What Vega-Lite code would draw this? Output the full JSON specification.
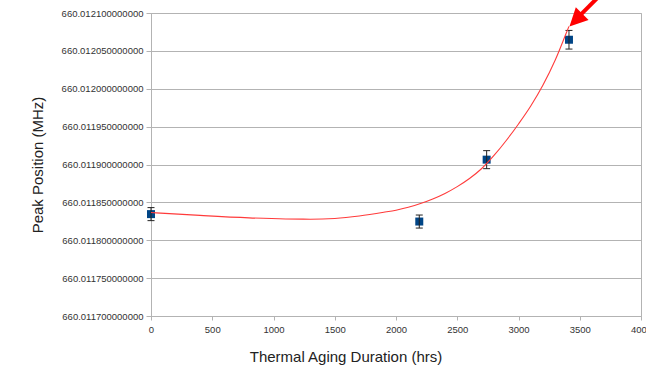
{
  "$schema": "https://vega.github.io/schema/vega-lite/v6.json",
  "width": 490,
  "height": 303,
  "autosize": {"type": "none"},
  "padding": {"left": 151, "top": 13, "right": 5, "bottom": 52},
  "background": "white",
  "config": {
    "view": {"stroke": "#b3b3b3", "strokeWidth": 1},
    "font": "Liberation Sans"
  },
  "datasets": {
    "points": [
      {"hours": 0, "peak": 660.0118345},
      {"hours": 2190, "peak": 660.0118247},
      {"hours": 2740, "peak": 660.0119064},
      {"hours": 3412, "peak": 660.0120647}
    ],
    "errbars": [
      {"hours": 0, "peak": 660.0118259, "peak2": 660.0118431},
      {"hours": 2190, "peak": 660.0118161, "peak2": 660.0118333},
      {"hours": 2740, "peak": 660.0118945, "peak2": 660.0119183},
      {"hours": 3412, "peak": 660.0120524, "peak2": 660.0120770}
    ],
    "caps": [
      {"hours": 0, "peak": 660.0118259},
      {"hours": 0, "peak": 660.0118431},
      {"hours": 2190, "peak": 660.0118161},
      {"hours": 2190, "peak": 660.0118333},
      {"hours": 2740, "peak": 660.0118945},
      {"hours": 2740, "peak": 660.0119183},
      {"hours": 3412, "peak": 660.0120524},
      {"hours": 3412, "peak": 660.0120770}
    ],
    "curve": [
      {"hours": 0, "peak": 660.0118366},
      {"hours": 400, "peak": 660.0118328},
      {"hours": 800, "peak": 660.0118296},
      {"hours": 1100, "peak": 660.0118281},
      {"hours": 1300, "peak": 660.0118278},
      {"hours": 1500, "peak": 660.0118288},
      {"hours": 1700, "peak": 660.011832},
      {"hours": 1900, "peak": 660.0118369},
      {"hours": 2000, "peak": 660.0118397},
      {"hours": 2100, "peak": 660.0118436},
      {"hours": 2200, "peak": 660.0118485},
      {"hours": 2300, "peak": 660.0118545},
      {"hours": 2400, "peak": 660.0118618},
      {"hours": 2500, "peak": 660.0118708},
      {"hours": 2600, "peak": 660.0118815},
      {"hours": 2700, "peak": 660.0118947},
      {"hours": 2800, "peak": 660.0119119},
      {"hours": 2900, "peak": 660.0119317},
      {"hours": 3000, "peak": 660.0119535},
      {"hours": 3100, "peak": 660.0119772},
      {"hours": 3200, "peak": 660.0120049},
      {"hours": 3300, "peak": 660.012038},
      {"hours": 3400, "peak": 660.0120776},
      {"hours": 3412, "peak": 660.0120823}
    ],
    "arrowShaft": [
      {"hours": 3502, "peak": 660.0120968, "hours2": 3665, "peak2": 660.0121233}
    ],
    "arrowHead": [
      {"hours": 3416, "peak": 660.0120823}
    ]
  },
  "encoding": {
    "x": {
      "field": "hours", "type": "quantitative",
      "scale": {"domain": [0, 4000], "nice": false, "zero": false},
      "axis": {
        "values": [0, 500, 1000, 1500, 2000, 2500, 3000, 3500, 4000],
        "format": "d",
        "grid": false,
        "tickSize": 4,
        "tickColor": "#b3b3b3",
        "domainColor": "#b3b3b3",
        "labelFont": "Liberation Sans",
        "labelFontSize": 9.5,
        "labelColor": "#333333",
        "labelPadding": 4,
        "labelFlush": false,
        "labelOverlap": false,
        "title": "Thermal Aging Duration (hrs)",
        "titleFont": "Liberation Sans",
        "titleFontSize": 15,
        "titleFontWeight": "normal",
        "titleColor": "#222222",
        "titleX": 194.5,
        "titleY": 45,
        "titleAlign": "center",
        "titleBaseline": "alphabetic"
      }
    },
    "y": {
      "field": "peak", "type": "quantitative",
      "scale": {"domain": [660.0117, 660.0121], "nice": false, "zero": false},
      "axis": {
        "values": [660.0117, 660.01175, 660.0118, 660.01185, 660.0119, 660.01195, 660.012, 660.01205, 660.0121],
        "format": ".12f",
        "grid": true,
        "gridColor": "#b3b3b3",
        "tickSize": 5,
        "tickColor": "#b3b3b3",
        "domainColor": "#b3b3b3",
        "labelFont": "Liberation Sans",
        "labelFontSize": 9.5,
        "labelColor": "#333333",
        "labelPadding": 3,
        "labelFlush": false,
        "labelOverlap": false,
        "title": "Peak Position (MHz)",
        "titleFont": "Liberation Sans",
        "titleFontSize": 15,
        "titleFontWeight": "normal",
        "titleColor": "#222222",
        "titleAngle": -90,
        "titleX": -109,
        "titleY": 151.5,
        "titleAlign": "center",
        "titleBaseline": "alphabetic"
      }
    }
  },
  "layer": [
    {
      "data": {"name": "points"},
      "mark": {"type": "square", "size": 64, "color": "#004586", "opacity": 1, "filled": true}
    },
    {
      "data": {"name": "errbars"},
      "mark": {"type": "rule", "color": "#222222", "strokeWidth": 1},
      "encoding": {
        "y2": {"field": "peak2"}
      }
    },
    {
      "data": {"name": "caps"},
      "mark": {"type": "tick", "orient": "horizontal", "size": 7, "thickness": 1, "color": "#222222", "opacity": 1}
    },
    {
      "data": {"name": "curve"},
      "mark": {"type": "line", "color": "#ff3b3b", "strokeWidth": 1.1, "interpolate": "monotone"}
    },
    {
      "data": {"name": "arrowShaft"},
      "mark": {"type": "rule", "color": "#ff0000", "strokeWidth": 4, "clip": false},
      "encoding": {
        "x2": {"field": "hours2"},
        "y2": {"field": "peak2"}
      }
    },
    {
      "data": {"name": "arrowHead"},
      "mark": {"type": "point", "shape": "M0,0L-1,2L1,2Z", "size": 324, "angle": 225, "filled": true, "color": "#ff0000", "opacity": 1, "strokeWidth": 0, "clip": false}
    }
  ]
}
